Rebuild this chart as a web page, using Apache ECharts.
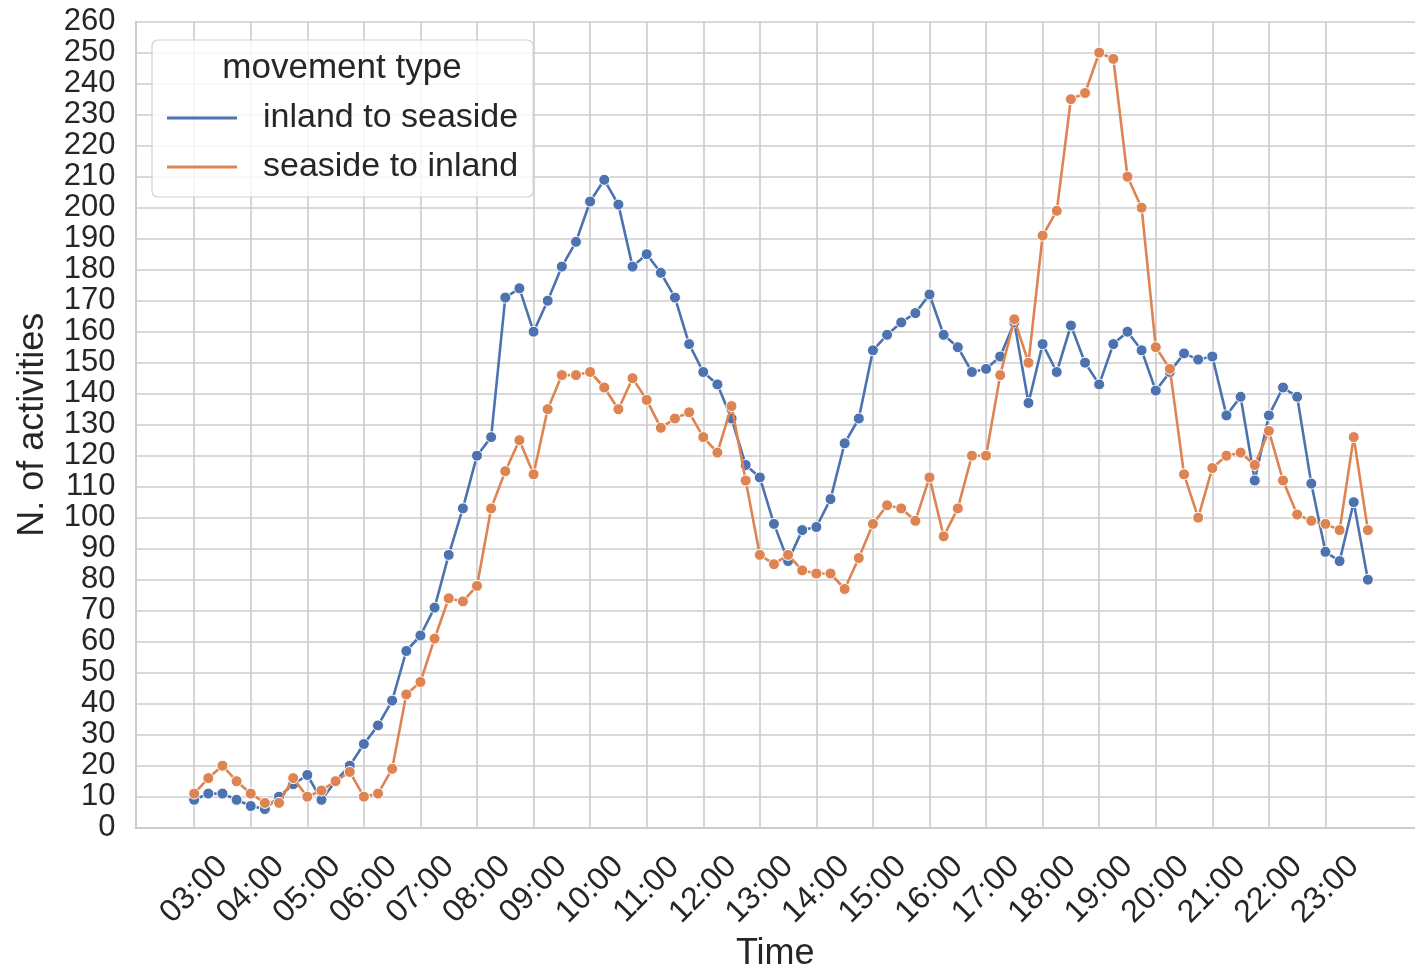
<!DOCTYPE html>
<html>
<head>
<meta charset="utf-8">
<title>Activities by time of day</title>
<script src="https://cdn.jsdelivr.net/npm/echarts@6/dist/echarts.min.js"></script>
<style>
  html, body { margin: 0; padding: 0; background: #ffffff; }
  #chart { width: 1415px; height: 970px; }
</style>
</head>
<body>
<div id="chart"></div>
<script>
// Activity counts per 15-minute slot, starting at 03:00
const firstSlot = '03:00';
const slotStep = 15; // minutes between consecutive points

const seriesNames = ['inland to seaside', 'seaside to inland'];

const inlandToSeaside = [
  9, 11, 11, 9,        7, 6, 10, 14,        17, 9, 15, 20,       27, 33, 41, 57,
  62, 71, 88, 103,     120, 126, 171, 174,  160, 170, 181, 189,  202, 209, 201, 181,
  185, 179, 171, 156,  147, 143, 132, 117,  113, 98, 86, 96,     97, 106, 124, 132,
  154, 159, 163, 166,  172, 159, 155, 147,  148, 152, 163, 137,  156, 147, 162, 150,
  143, 156, 160, 154,  141, 147, 153, 151,  152, 133, 139, 112,  133, 142, 139, 111,
  89, 86, 105, 80
];

const seasideToInland = [
  11, 16, 20, 15,      11, 8, 8, 16,        10, 12, 15, 18,      10, 11, 19, 43,
  47, 61, 74, 73,      78, 103, 115, 125,   114, 135, 146, 146,  147, 142, 135, 145,
  138, 129, 132, 134,  126, 121, 136, 112,  88, 85, 88, 83,      82, 82, 77, 87,
  98, 104, 103, 99,    113, 94, 103, 120,   120, 146, 164, 150,  191, 199, 235, 237,
  250, 248, 210, 200,  155, 148, 114, 100,  116, 120, 121, 117,  128, 112, 101, 99,
  98, 96, 126, 96
];

const hourTicks = [
  '03:00', '04:00', '05:00', '06:00', '07:00', '08:00', '09:00', '10:00', '11:00',
  '12:00', '13:00', '14:00', '15:00', '16:00', '17:00', '18:00', '19:00', '20:00',
  '21:00', '22:00', '23:00'
];

const yMin = 0;
const yMax = 260;
const yStep = 10;

const COLORS = ['#4c72b0', '#dd8452'];
const FONT = '"Liberation Sans", Arial, sans-serif';
const INK = '#262626';
const GRID_GRAY = '#cccccc';

function toMinutes(hhmm) {
  const [h, m] = hhmm.split(':').map(Number);
  return h * 60 + m;
}
function fromMinutes(min) {
  const h = Math.floor(min / 60);
  const m = Math.round(min % 60);
  return String(h).padStart(2, '0') + ':' + String(m).padStart(2, '0');
}

const start = toMinutes(firstSlot);
function toPairs(values) {
  return values.map((v, i) => [start + i * slotStep, v]);
}

// x range: 5% of the data span before the first slot; the view is cut
// at the right edge of the canvas, a little before the symmetric margin
const lastSlot = start + (inlandToSeaside.length - 1) * slotStep;
const pad = (lastSlot - start) * 0.05;
const xMin = start - pad;
const xMax = 1475;

const chart = echarts.init(document.getElementById('chart'), null, { renderer: 'canvas' });

const lineSeries = [inlandToSeaside, seasideToInland].map((vals, k) => ({
  name: seriesNames[k],
  type: 'line',
  data: toPairs(vals),
  symbol: 'circle',
  symbolSize: 11,
  showSymbol: true,
  itemStyle: { color: COLORS[k], borderColor: '#ffffff', borderWidth: 1 },
  lineStyle: { color: COLORS[k], width: 2.6 },
  emphasis: { disabled: true },
  z: 3 + k
}));

const axisLineStyle = { show: true, lineStyle: { color: GRID_GRAY, width: 2 } };

chart.setOption({
  animation: false,
  backgroundColor: '#ffffff',
  textStyle: { fontFamily: FONT, color: INK },
  grid: {
    left: 135.5,
    top: 21.7,
    bottom: 142.3,
    right: 0,
    show: false,
    containLabel: false,
    outerBoundsMode: 'none'
  },
  xAxis: {
    type: 'value',
    min: xMin,
    max: xMax,
    name: 'Time',
    nameLocation: 'middle',
    nameGap: 108,
    nameTextStyle: { fontSize: 36, color: INK, fontFamily: FONT },
    axisLine: axisLineStyle,
    axisTick: { show: false, customValues: hourTicks.map(toMinutes) },
    axisLabel: {
      customValues: hourTicks.map(toMinutes),
      formatter: (v) => fromMinutes(v),
      rotate: 45,
      align: 'center',
      verticalAlign: 'middle',
      margin: 62,
      fontSize: 32,
      color: INK,
      fontFamily: FONT
    },
    splitLine: { show: true, lineStyle: { color: GRID_GRAY, width: 1.6 } }
  },
  yAxis: {
    type: 'value',
    min: yMin,
    max: yMax,
    interval: yStep,
    name: 'N. of activities',
    nameLocation: 'middle',
    nameGap: 84,
    nameTextStyle: { fontSize: 36, color: INK, fontFamily: FONT },
    axisLine: axisLineStyle,
    axisTick: { show: false },
    axisLabel: {
      margin: 20,
      fontSize: 31,
      color: INK,
      fontFamily: FONT,
      showMinLabel: true,
      showMaxLabel: true
    },
    splitLine: { show: true, lineStyle: { color: GRID_GRAY, width: 1.6 } }
  },
  legend: {
    data: seriesNames,
    orient: 'vertical',
    left: 152,
    top: 40,
    padding: [60, 15, 12, 15],
    itemGap: 13,
    itemWidth: 70,
    itemHeight: 3,
    icon: 'rect',
    itemStyle: { borderWidth: 0 },
    backgroundColor: 'rgba(255,255,255,0.8)',
    borderColor: '#d0d0d0',
    borderWidth: 1.2,
    borderRadius: 6,
    selectedMode: false,
    textStyle: {
      fontSize: 34,
      lineHeight: 36,
      color: INK,
      fontFamily: FONT,
      padding: [0, 0, 0, 21]
    },
    z: 8
  },
  graphic: [{
    type: 'text',
    x: 342,
    y: 68,
    z: 100,
    style: {
      text: 'movement type',
      fontSize: 35,
      fontFamily: FONT,
      fill: INK,
      align: 'center',
      verticalAlign: 'middle'
    }
  }],
  series: lineSeries
});
</script>
</body>
</html>
